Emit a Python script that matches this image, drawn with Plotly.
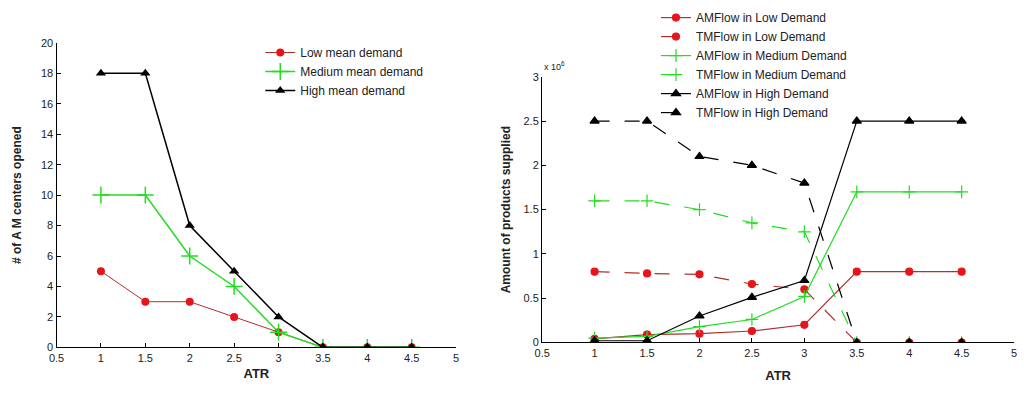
import plotly.graph_objects as go

# ---------------- data ----------------
atr = [1, 1.5, 2, 2.5, 3, 3.5, 4, 4.5]

# left chart: number of AM centers opened
low_centers = [5, 3, 3, 2, 1, 0, 0, 0]
medium_centers = [10, 10, 6, 4, 1, 0, 0, 0]
high_centers = [18, 18, 8, 5, 2, 0, 0, 0]

# right chart: amount of products supplied (x 10^6)
am_low = [0.04, 0.09, 0.10, 0.13, 0.20, 0.80, 0.80, 0.80]
tm_low = [0.80, 0.78, 0.77, 0.66, 0.60, 0, 0, 0]
am_medium = [0.05, 0.07, 0.18, 0.26, 0.52, 1.70, 1.70, 1.70]
tm_medium = [1.60, 1.60, 1.50, 1.35, 1.25, 0, 0, 0]
am_high = [0.02, 0.02, 0.30, 0.51, 0.70, 2.50, 2.50, 2.50]
tm_high = [2.50, 2.50, 2.10, 2.00, 1.80, 0, 0, 0]

x_ticks = [0.5, 1, 1.5, 2, 2.5, 3, 3.5, 4, 4.5, 5]
x_tick_text = ["0.5", "1", "1.5", "2", "2.5", "3", "3.5", "4", "4.5", "5"]
left_y_ticks = [0, 2, 4, 6, 8, 10, 12, 14, 16, 18, 20]
right_y_ticks = [0, 0.5, 1, 1.5, 2, 2.5, 3]
right_y_text = ["0", "0.5", "1", "1.5", "2", "2.5", "3"]

RED = "#e8141c"
RED_LINE = "#b0302c"
GREEN = "#22dd22"
BLACK = "#000000"
FONT = "Liberation Sans"

fig = go.Figure()

# ---------------- left chart ----------------
fig.add_trace(go.Scatter(x=atr, y=low_centers, name="Low mean demand", mode="lines+markers",
                         line=dict(color=RED_LINE, width=1),
                         marker=dict(symbol="circle", color=RED, size=8),
                         xaxis="x", yaxis="y", legend="legend"))
fig.add_trace(go.Scatter(x=atr, y=medium_centers, name="Medium mean demand", mode="lines+markers",
                         line=dict(color=GREEN, width=1.5),
                         marker=dict(symbol="cross-thin", color=GREEN, size=12,
                                     line=dict(color=GREEN, width=1.5)),
                         xaxis="x", yaxis="y", legend="legend"))
fig.add_trace(go.Scatter(x=atr, y=high_centers, name="High mean demand", mode="lines+markers",
                         line=dict(color=BLACK, width=1.5),
                         marker=dict(symbol="triangle-up", color=BLACK, size=9),
                         xaxis="x", yaxis="y", legend="legend"))

# ---------------- right chart ----------------
right_series = [
    ("AMFlow in Low Demand", am_low, RED_LINE, RED, "circle", "solid", 7),
    ("TMFlow in Low Demand", tm_low, RED_LINE, RED, "circle", "longdash", 7),
    ("AMFlow in Medium Demand", am_medium, GREEN, GREEN, "cross-thin", "solid", 9),
    ("TMFlow in Medium Demand", tm_medium, GREEN, GREEN, "cross-thin", "longdash", 9),
    ("AMFlow in High Demand", am_high, BLACK, BLACK, "triangle-up", "solid", 8),
    ("TMFlow in High Demand", tm_high, BLACK, BLACK, "triangle-up", "longdash", 8),
]
for name, vals, lc, mc, sym, dash, sz in right_series:
    fig.add_trace(go.Scatter(x=atr, y=vals, name=name, mode="lines+markers",
                             line=dict(color=lc, width=1.2, dash=dash),
                             marker=dict(symbol=sym, color=mc, size=sz,
                                         line=dict(color=mc, width=1.2)),
                             xaxis="x2", yaxis="y2", legend="legend2"))

axis_common = dict(showline=True, linecolor="black", linewidth=1.3, ticks="inside",
                   ticklen=4, tickcolor="black", showgrid=False, zeroline=False,
                   tickfont=dict(family=FONT, size=11, color="#222"))

fig.update_layout(
    width=1024, height=396,
    margin=dict(l=0, r=0, t=0, b=0),
    paper_bgcolor="white", plot_bgcolor="white",
    font=dict(family=FONT, color="#222"),
    xaxis=dict(domain=[0.0479, 0.4424], range=[0.5, 5], tickvals=x_ticks, ticktext=x_tick_text,
               anchor="y", title=dict(text="<b>ATR</b>", font=dict(size=13), standoff=6),
               **axis_common),
    yaxis=dict(domain=[0.111, 0.904], range=[0, 20], tickvals=left_y_ticks,
               anchor="x", title=dict(text="<b># of A M centers opened</b>", font=dict(size=12), standoff=16),
               **axis_common),
    xaxis2=dict(domain=[0.5273, 0.9932], range=[0.5, 5], tickvals=x_ticks, ticktext=x_tick_text,
                anchor="y2", title=dict(text="<b>ATR</b>", font=dict(size=13), standoff=13),
                **axis_common),
    yaxis2=dict(domain=[0.1237, 0.8157], range=[0, 3], tickvals=right_y_ticks, ticktext=right_y_text,
                anchor="x2", title=dict(text="<b>Amount of products supplied</b>", font=dict(size=12), standoff=10),
                **axis_common),
    legend=dict(x=255 / 1024, y=1 - 33 / 396, xanchor="left", yanchor="top",
                bgcolor="rgba(255,255,255,0)", font=dict(family=FONT, size=12, color="#222"),
                tracegroupgap=0, itemwidth=30),
    legend2=dict(x=655 / 1024, y=1 + 3 / 396, xanchor="left", yanchor="top",
                 bgcolor="rgba(255,255,255,0)", font=dict(family=FONT, size=12, color="#222"),
                 tracegroupgap=0, itemwidth=30),
    annotations=[dict(text="x 10<sup>6</sup>", x=0.5273, y=1 - 62 / 396, xref="paper", yref="paper",
                      xanchor="left", yanchor="middle", showarrow=False,
                      font=dict(family=FONT, size=9, color="#222"))],
    showlegend=True,
)

fig.write_html("out.html")
